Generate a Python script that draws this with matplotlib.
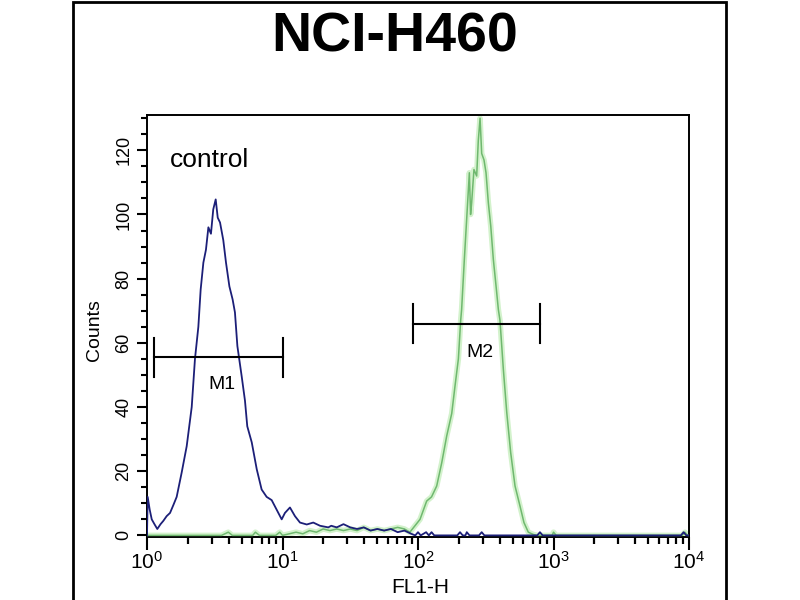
import numpy
from matplotlib import pyplot
from matplotlib.patches import Rectangle
from matplotlib.ticker import MultipleLocator, LogLocator, LogFormatterSciNotation

pyplot.rcParams['font.family']=['Liberation Sans','DejaVu Sans']
pyplot.rcParams['mathtext.fontset']='custom'
pyplot.rcParams['mathtext.rm']='Liberation Sans'
pyplot.rcParams['mathtext.it']='Liberation Sans'

# control histogram (log10 of FL1-H, counts)
control_log=[0.0,0.005,0.02,0.035,0.055,0.076,0.1,0.12,0.145,0.17,0.195,0.219,0.256,
             0.293,0.33,0.354,0.379,0.396,0.416,0.435,0.453,0.472,0.489,0.507,0.522,
             0.539,0.563,0.583,0.608,0.632,0.649,0.667,0.699,0.723,0.74,0.773,0.81,
             0.846,0.883,0.92,0.957,0.994,1.018,1.055,1.092,1.129,1.179,1.227,1.277,
             1.338,1.36,1.40,1.45,1.5,1.55,1.6,1.65,1.7,1.75,1.8,1.85,1.9,1.95,1.98,
             2.0,2.02,2.06,2.08,2.1,2.12,2.29,2.31,2.33,2.35,2.36,2.38,2.45,2.47,2.49,
             2.88,2.9,2.92,3.94,3.96,3.98,4.0]
control_counts=[0,12,8,5,3.5,2,3.5,4.5,6,7,9.5,12,19.6,
                27.8,40,55,65,76.6,85,89,96,94,101.6,104.7,99,
                97.5,92,85,77.6,73.5,69.5,59,49.5,42,34,29,20.6,
                14.3,12,11,8,5,7,8.7,6,4,3.4,4,3,
                2.5,3,2.5,3.5,2.5,2,2.5,1.5,2,1.5,2,1,1.5,0.5,0,
                1,0,1,0,1,0,0,1,0,0,1,0,0,1,0,
                0,1,0,0,1,0,0]

# antibody histogram
sample_log=[0.0,0.55,0.6,0.63,0.78,0.8,0.83,0.95,0.98,1.0,1.05,1.1,1.15,1.2,1.25,
            1.3,1.35,1.4,1.45,1.5,1.55,1.6,1.65,1.7,1.75,1.8,1.85,1.9,1.94,
            2.015,2.064,2.10,2.138,2.175,2.212,2.249,2.273,2.298,2.315,2.322,2.342,
            2.359,2.379,2.388,2.396,2.413,2.433,2.445,2.458,2.47,2.487,2.502,2.519,
            2.537,2.556,2.576,2.593,2.605,2.63,2.655,2.684,2.716,2.753,2.782,2.814,
            2.85,2.88,2.99,3.0,3.02,3.95,3.97,3.99,4.0]
sample_counts=[0,0,1,0,0,1,0,0,1,0,0.5,1,0.5,1.5,1,
               2,1.5,2,1.5,2,1.5,2.5,1.5,2,1.5,2,2.5,2,1,
               5,10.7,12,15.4,22.6,31,38,46.5,55,67,70.4,86,
               98.4,113,100,103.7,114,112,123,130,119,117,113,103.7,
               96.4,86,77.7,70.4,67,51.7,38.3,25.8,15.4,9.1,4,1,
               0.3,0,0,1,0,0,1,0,0]

# marker gates: name, left, right, level, label position
gate_names=["M1","M2"]
gate_left=[1.13,91.8]
gate_right=[10.0,795.0]
gate_level=[55.5,66.0]
gate_label_x=[3.57,287.0]
gate_label_y=[47.0,57.0]

fig=pyplot.figure(figsize=(8,6), dpi=100)
fig.patches.append(Rectangle((73/800.,-0.05), 653/800., 1.05-2/600., transform=fig.transFigure,
                             fill=False, edgecolor="black", lw=2))

ax=fig.add_axes([147/800., 1-537/600., 542/800., 422/600.])
ax.set_xscale("log")

x_sample=10**numpy.array(sample_log)
x_control=10**numpy.array(control_log)
ax.plot(x_sample, sample_counts, color="#c8efc0", lw=4, alpha=0.8, zorder=2)
ax.plot(x_sample, sample_counts, color="#6fb86f", lw=1.1, zorder=3)
ax.plot(x_control, control_counts, color="#1c1f78", lw=1.3, zorder=4)

for name,l,r,lev,lx,ly in zip(gate_names,gate_left,gate_right,gate_level,gate_label_x,gate_label_y):
    ax.plot([l,r],[lev,lev],color="black",lw=1.5,zorder=5)
    ax.plot([l,l],[lev-6,lev+6],color="black",lw=1.5,zorder=5)
    ax.plot([r,r],[lev-6,lev+6],color="black",lw=1.5,zorder=5)
    ax.text(lx,ly,name,ha="center",va="center",fontsize=14,zorder=6)

ax.text(23/542., 0.877, "control", transform=ax.transAxes, fontsize=19, va="baseline", ha="left")

ax.set_xlim(1,1e4)
ax.set_ylim(-0.5,131)
ax.yaxis.set_major_locator(MultipleLocator(20))
ax.yaxis.set_minor_locator(MultipleLocator(5))
ax.xaxis.set_major_locator(LogLocator(base=10))
ax.xaxis.set_minor_locator(LogLocator(base=10, subs=numpy.arange(2,10)))
ax.xaxis.set_major_formatter(LogFormatterSciNotation())
ax.tick_params(axis="y", which="major", length=7.5, width=1.5, direction="out")
ax.tick_params(axis="y", which="minor", length=4.5, width=1.5, direction="out")
ax.tick_params(axis="x", which="major", length=9, width=1.5, direction="out")
ax.tick_params(axis="x", which="minor", length=5, width=1.6, direction="out")
ax.tick_params(axis="x", labelsize=15, pad=1)
ax.tick_params(axis="y", labelsize=13, pad=3)
for lab in ax.get_yticklabels():
    lab.set_rotation(90)
    lab.set_va("center")
for s in ax.spines.values():
    s.set_linewidth(1.4)

fig.text(395/800., 1-52/600., "NCI-H460", ha="center", va="baseline", fontsize=40, fontweight="bold")
fig.text(95/800., 1-330/600., "Counts", ha="center", va="center", rotation=90, fontsize=14)
fig.text(420/800., 1-578/600., "FL1-H", ha="center", va="top", fontsize=15)

fig.savefig("out.png", dpi=100)
